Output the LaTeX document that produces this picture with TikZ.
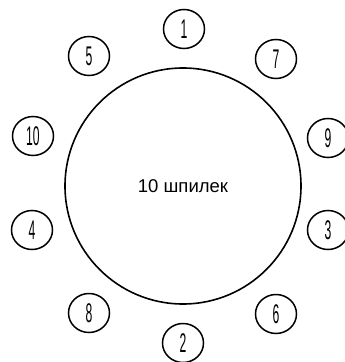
\documentclass[tikz,border=0pt]{standalone}
\usepackage{fontspec}
\usepackage{graphicx}
\setmainfont{Liberation Sans}
\usetikzlibrary{shapes.geometric}
\tikzset{
  big/.style={circle, draw, line width=1.6pt, minimum size=236pt, inner sep=0pt},
  seat/.style={ellipse, draw, line width=1.5pt, minimum width=41pt, minimum height=39pt, inner sep=0pt, font=\fontsize{27}{27}\selectfont},
  lbl/.style={font=\fontsize{18.5}{20}\selectfont}
}
\newcommand{\nar}[1]{\scalebox{0.45}[1]{#1}}
\begin{document}
\begin{tikzpicture}[x=1pt,y=-1pt]
\useasboundingbox (0,0) rectangle (345,362);
\node[big] (c) at (183,186) {};
\node[lbl] (t) at (183,186) {10 шпилек};
\foreach \n/\x/\y in {1/184/29,7/276/59,9/328/138,3/328/230,6/276/314,2/183/343,8/89/313,4/32/230,10/33/136,5/89/56}{
  \node[seat] (s\n) at (\x,\y) {\nar{\n}};
}
\end{tikzpicture}
\end{document}
